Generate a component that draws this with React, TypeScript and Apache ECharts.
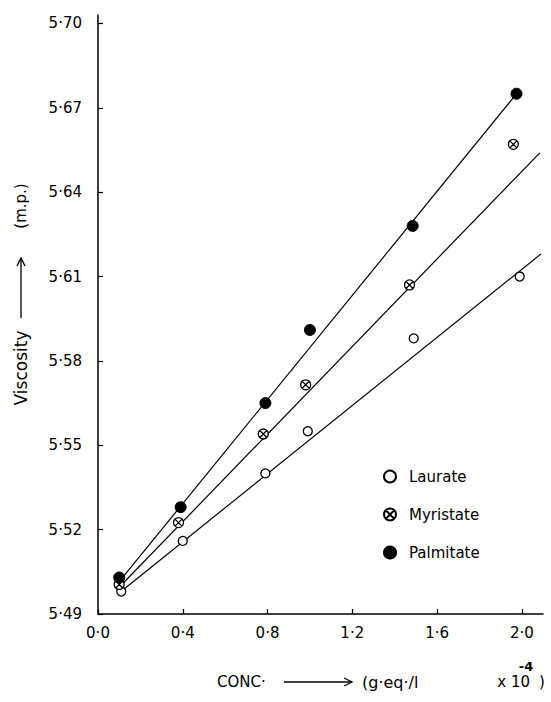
import React, { useEffect, useRef } from "react";
import * as echarts from "echarts";

// ---- data ----
const xTickValues = [0.0, 0.4, 0.8, 1.2, 1.6, 2.0];
const yTickValues = [5.49, 5.52, 5.55, 5.58, 5.61, 5.64, 5.67, 5.7];

const laurateConc = [0.11, 0.4, 0.79, 0.99, 1.49, 1.99];
const laurateVisc = [5.498, 5.516, 5.54, 5.555, 5.588, 5.61];

const myristateConc = [0.1, 0.38, 0.78, 0.98, 1.47, 1.96];
const myristateVisc = [5.5005, 5.5225, 5.554, 5.5715, 5.607, 5.657];

const palmitateConc = [0.1, 0.39, 0.79, 1.0, 1.485, 1.975];
const palmitateVisc = [5.503, 5.528, 5.565, 5.591, 5.628, 5.675];

// fitted straight lines (endpoints)
const laurateFitConc = [0.1, 2.09];
const laurateFitVisc = [5.4975, 5.618];
const myristateFitConc = [0.1, 2.085];
const myristateFitVisc = [5.4995, 5.654];
const palmitateFitConc = [0.1, 1.975];
const palmitateFitVisc = [5.5015, 5.675];

const seriesNames = ["Laurate", "Myristate", "Palmitate"];

const FONT = "DejaVu Sans";
const CROSS_CIRCLE =
  "path://M10,0A10,10,0,1,1,-10,0A10,10,0,1,1,10,0ZM-7,-7L7,7M7,-7L-7,7";

const pairs = (xs: number[], ys: number[]) => xs.map((x, i) => [x, ys[i]]);

export default function App() {
  const ref = useRef<HTMLDivElement>(null);

  useEffect(() => {
    if (!ref.current) return;
    const chart = echarts.init(ref.current, null, { renderer: "svg" });

    const fitLine = (xs: number[], ys: number[]) => ({
      type: "line",
      data: pairs(xs, ys),
      showSymbol: false,
      symbol: "none",
      lineStyle: { color: "#000", width: 1.2 },
      z: 1,
      silent: true,
    });

    const arrowGroup = (
      x1: number,
      y1: number,
      x2: number,
      y2: number,
      vertical: boolean
    ) => {
      const head = vertical
        ? [
            [x2 - 4, y2 + 8],
            [x2, y2],
            [x2 + 4, y2 + 8],
          ]
        : [
            [x2 - 8, y2 - 4],
            [x2, y2],
            [x2 - 8, y2 + 4],
          ];
      return [
        {
          type: "line",
          shape: { x1, y1, x2, y2 },
          style: { stroke: "#000", lineWidth: 1.3 },
        },
        {
          type: "polyline",
          shape: { points: head },
          style: { stroke: "#000", lineWidth: 1.3, fill: null },
        },
      ];
    };

    chart.setOption({
      animation: false,
      backgroundColor: "#fff",
      textStyle: { fontFamily: FONT, color: "#000" },
      grid: { left: 98, right: 8, top: 15, bottom: 88, containLabel: false },
      xAxis: {
        type: "value",
        min: 0,
        max: 2.1,
        axisLine: { lineStyle: { color: "#000", width: 1.5 } },
        axisTick: {
          inside: true,
          length: 5,
          customValues: xTickValues,
          lineStyle: { color: "#000", width: 1.2 },
        },
        axisLabel: {
          customValues: xTickValues,
          margin: 11,
          fontSize: 15,
          fontFamily: FONT,
          color: "#000",
          formatter: (v: number) => v.toFixed(1).replace(".", "·"),
        },
        splitLine: { show: false },
      },
      yAxis: {
        type: "value",
        min: 5.49,
        max: 5.703,
        axisLine: { lineStyle: { color: "#000", width: 1.5 } },
        axisTick: {
          inside: true,
          length: 5,
          customValues: yTickValues,
          lineStyle: { color: "#000", width: 1.2 },
        },
        axisLabel: {
          customValues: yTickValues,
          margin: 16,
          fontSize: 15,
          fontFamily: FONT,
          color: "#000",
          formatter: (v: number) => v.toFixed(2).replace(".", "·"),
        },
        splitLine: { show: false },
      },
      legend: {
        orient: "vertical",
        left: 383,
        top: 469,
        itemWidth: 12,
        itemHeight: 12,
        itemGap: 23,
        padding: 0,
        textStyle: {
          fontSize: 15,
          fontFamily: FONT,
          color: "#000",
          padding: [0, 0, 0, 8],
        },
        data: [
          { name: seriesNames[0], icon: "circle" },
          { name: seriesNames[1], icon: CROSS_CIRCLE },
          { name: seriesNames[2], icon: "circle" },
        ],
      },
      series: [
        fitLine(laurateFitConc, laurateFitVisc),
        fitLine(myristateFitConc, myristateFitVisc),
        fitLine(palmitateFitConc, palmitateFitVisc),
        {
          name: seriesNames[0],
          type: "scatter",
          data: pairs(laurateConc, laurateVisc),
          symbol: "circle",
          symbolSize: 9,
          itemStyle: { color: "#fff", borderColor: "#000", borderWidth: 1.3, opacity: 1 },
          z: 3,
        },
        {
          name: seriesNames[1],
          type: "scatter",
          data: pairs(myristateConc, myristateVisc),
          symbol: CROSS_CIRCLE,
          symbolKeepAspect: true,
          symbolSize: 10,
          itemStyle: { color: "#fff", borderColor: "#000", borderWidth: 1.3, opacity: 1 },
          z: 4,
        },
        {
          name: seriesNames[2],
          type: "scatter",
          data: pairs(palmitateConc, palmitateVisc),
          symbol: "circle",
          symbolSize: 11,
          itemStyle: { color: "#000", borderColor: "#000", borderWidth: 1, opacity: 1 },
          z: 5,
        },
      ],
      graphic: [
        // y-axis title
        {
          type: "text",
          x: 21,
          y: 368,
          rotation: Math.PI / 2,
          style: {
            text: "Viscosity",
            font: `17px ${FONT}`,
            fill: "#000",
            align: "center",
            verticalAlign: "middle",
          },
        },
        ...arrowGroup(21, 318, 21, 258, true),
        {
          type: "text",
          x: 21,
          y: 206,
          rotation: Math.PI / 2,
          style: {
            text: "(m.p.)",
            font: `15px ${FONT}`,
            fill: "#000",
            align: "center",
            verticalAlign: "middle",
          },
        },
        // x-axis title
        {
          type: "text",
          x: 217,
          y: 682,
          style: {
            text: "CONC·",
            font: `15px ${FONT}`,
            fill: "#000",
            align: "left",
            verticalAlign: "middle",
          },
        },
        ...arrowGroup(284, 682, 352, 682, false),
        {
          type: "text",
          x: 362,
          y: 682,
          style: {
            text: "(g·eq·/l",
            font: `16px ${FONT}`,
            fill: "#000",
            align: "left",
            verticalAlign: "middle",
          },
        },
        {
          type: "text",
          x: 530,
          y: 682,
          style: {
            text: "x 10",
            font: `15px ${FONT}`,
            fill: "#000",
            align: "right",
            verticalAlign: "middle",
          },
        },
        {
          type: "text",
          x: 526,
          y: 666,
          style: {
            text: "-4",
            font: `bold 13px ${FONT}`,
            fill: "#000",
            align: "center",
            verticalAlign: "middle",
          },
        },
        {
          type: "text",
          x: 542,
          y: 682,
          style: {
            text: ")",
            font: `15px ${FONT}`,
            fill: "#000",
            align: "center",
            verticalAlign: "middle",
          },
        },
      ],
    });

    return () => chart.dispose();
  }, []);

  return (
    <div
      ref={ref}
      style={{ position: "absolute", left: 0, top: 0, width: 551, height: 702 }}
    />
  );
}
